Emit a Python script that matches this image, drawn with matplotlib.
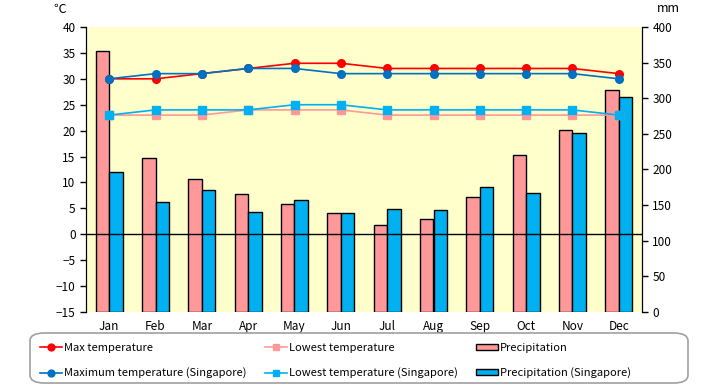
import numpy as np
import matplotlib
matplotlib.use('Agg')
import matplotlib.pyplot as plt
from matplotlib.patches import FancyBboxPatch

plt.rcParams['font.family'] = ['Noto Sans CJK JP', 'DejaVu Sans']

months = ['Jan', 'Feb', 'Mar', 'Apr', 'May', 'Jun', 'Jul', 'Aug', 'Sep', 'Oct', 'Nov', 'Dec']
max_temp = [30, 30, 31, 32, 33, 33, 32, 32, 32, 32, 32, 31]
low_temp = [23, 23, 23, 24, 24, 24, 23, 23, 23, 23, 23, 23]
max_sg = [30, 31, 31, 32, 32, 31, 31, 31, 31, 31, 31, 30]
low_sg = [23, 24, 24, 24, 25, 25, 24, 24, 24, 24, 24, 23]
prec = [366, 216, 187, 165, 152, 139, 122, 131, 161, 220, 255, 312]
prec_sg = [197, 154, 171, 140, 157, 139, 144, 143, 176, 167, 251, 302]

x = np.arange(len(months))
w = 0.29

fig = plt.figure(figsize=(7.2, 3.85), dpi=100)
ax = fig.add_axes([86/720, 73/385, 556/720, 285/385])
ax.set_facecolor('#FFFFCC')

# bars on the mm axis (drawn under the lines)
b1 = ax.bar(x - w/2, prec, w, color='#FF9999', edgecolor='black', linewidth=1, label='Precipitation')
b2 = ax.bar(x + w/2, prec_sg, w, color='#00B0F0', edgecolor='black', linewidth=1, label='Precipitation (Singapore)')
ax.set_ylim(0, 400)
ax.set_yticks(range(0, 401, 50))
ax.set_xlim(-0.5, 11.5)
ax.set_xticks(x)
ax.set_xticklabels(months)

ax2 = ax.twinx()
ax.yaxis.tick_right()
ax2.yaxis.tick_left()
ax2.set_ylim(-15, 40)
ax2.set_yticks(range(-15, 41, 5))
ax2.set_yticklabels([str(v).replace('-', '\u2212') for v in range(-15, 41, 5)])
ax2.axhline(0, color='black', lw=1, zorder=1)

l1, = ax2.plot(x, max_temp, '-o', color='#FF0000', ms=5.5, lw=1.2, label='Max temperature')
l3, = ax2.plot(x, low_temp, '-s', color='#FF9999', ms=5.5, lw=1.2, label='Lowest temperature')
l2, = ax2.plot(x, max_sg, '-o', color='#0070C0', ms=5.5, lw=1.2, label='Maximum temperature (Singapore)')
l4, = ax2.plot(x, low_sg, '-s', color='#00B0F0', ms=5.5, lw=1.2, label='Lowest temperature (Singapore)')

for a in (ax, ax2):
    a.spines['top'].set_visible(False)
    a.spines['bottom'].set_visible(False)
    a.spines['left'].set_color('black')
    a.spines['right'].set_color('black')
    a.tick_params(axis='y', labelsize=8.5, length=4, width=1, direction='out')
ax.tick_params(axis='x', length=0, labelsize=8.5, pad=6)

fig.text(60/720, 1 - 9/385, '\u2103', fontsize=9, ha='center', va='center')
fig.text(668/720, 1 - 9/385, 'mm', fontsize=9, ha='center', va='center')

# rounded legend box
box = FancyBboxPatch((30/720, 2/385), 658/720, 50/385, boxstyle='round,pad=0,rounding_size=0.02',
                     transform=fig.transFigure, facecolor='white', edgecolor='#A0A0A0', lw=1.2)
fig.patches.append(box)

handles = [l1, l2, l3, l4, b1, b2]
leg = fig.legend(handles, [h.get_label() for h in handles], ncol=3,
                 loc='upper left', bbox_to_anchor=(31/720, 1 - 334/385),
                 prop={'size': 8},
                 frameon=False, handlelength=2.0, handleheight=0.4,
                 handletextpad=0.2, borderpad=0.3, labelspacing=1.3,
                 columnspacing=1.6, markerscale=0.9)

fig.savefig('out.png', dpi=100)
